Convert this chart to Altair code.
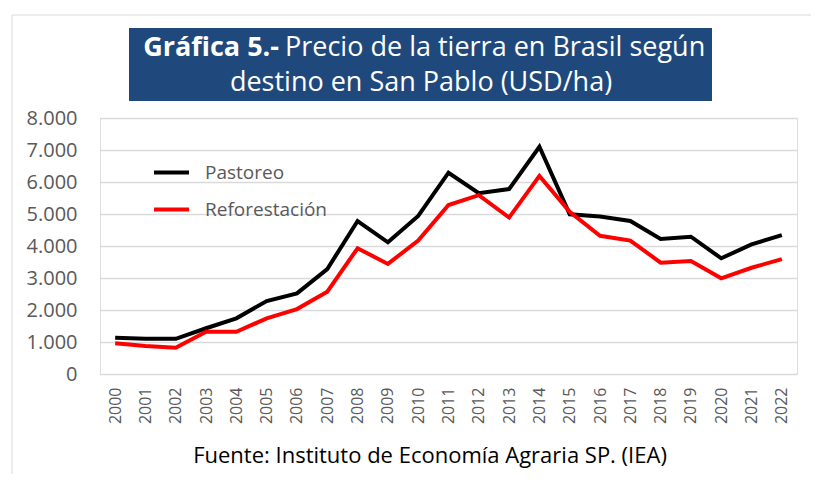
import altair as alt
import pandas as pd

years = [str(y) for y in range(2000, 2023)]
pastoreo = [1130, 1100, 1100, 1430, 1740, 2280, 2520, 3280, 4780, 4115, 4940, 6290,
            5650, 5780, 7100, 4990, 4920, 4780, 4220, 4290, 3615, 4050, 4340]
reforestacion = [960, 875, 820, 1320, 1320, 1740, 2030, 2570, 3930, 3440, 4170, 5280,
                 5590, 4890, 6190, 5070, 4320, 4170, 3480, 3530, 2990, 3320, 3590]
series = ["Pastoreo", "Reforestación"]
colors = ["#000000", "#FF0000"]
y_ticks = [0, 1000, 2000, 3000, 4000, 5000, 6000, 7000, 8000]

title_bold = "Gráfica 5.-"
title_rest = "Precio de la tierra en Brasil según"
title_line2 = "destino en San Pablo (USD/ha)"
source = "Fuente: Instituto de Economía Agraria SP. (IEA)"

rows = []
for i, yr in enumerate(years):
    rows.append({"year": yr, "serie": series[0], "value": pastoreo[i]})
    rows.append({"year": yr, "serie": series[1], "value": reforestacion[i]})
df = pd.DataFrame(rows)

W, H = 697, 256
FONT = "Open Sans"

lines = alt.Chart(df).mark_line(strokeWidth=4).encode(
    x=alt.X("year:O", sort=years, scale=alt.Scale(type="point", padding=0.5),
            axis=alt.Axis(title=None, labelAngle=-90, labelFontSize=16, labelColor="#595959",
                          labelFont=FONT, labelPadding=13, ticks=False, domain=False, grid=False)),
    y=alt.Y("value:Q", scale=alt.Scale(domain=[0, 8000]),
            axis=alt.Axis(title=None, values=y_ticks, labelFontSize=20, labelColor="#595959",
                          labelFont=FONT, labelPadding=23, ticks=False, domain=False,
                          gridColor="#d9d9d9", gridWidth=1.5,
                          labelExpr="replace(format(datum.value, ',d'), ',', '.')")),
    color=alt.Color("serie:N", scale=alt.Scale(domain=series, range=colors),
                    legend=alt.Legend(title=None, orient="none", legendX=52, legendY=35,
                                      symbolType="stroke", symbolStrokeWidth=4, symbolSize=1225,
                                      labelFontSize=19, labelColor="#595959", labelFont=FONT,
                                      labelOffset=14, rowPadding=7, padding=0)),
)

deco = pd.DataFrame({"k": [0]})
border = alt.Chart(deco).mark_rect(fill=None, stroke="#d9d9d9", strokeWidth=1).encode(
    x=alt.value(-88), x2=alt.value(730), y=alt.value(-103), y2=alt.value(380))
box = alt.Chart(deco).mark_rect(fill="#1F497D").encode(
    x=alt.value(29), x2=alt.value(612), y=alt.value(-90), y2=alt.value(-17))
t1 = alt.Chart(deco).mark_text(font=FONT, fontSize=27, fontWeight="bold", color="white",
                               align="right", baseline="middle").encode(
    x=alt.value(179), y=alt.value(-70), text=alt.value(title_bold))
t2 = alt.Chart(deco).mark_text(font=FONT, fontSize=27, color="white",
                               align="left", baseline="middle").encode(
    x=alt.value(185), y=alt.value(-70), text=alt.value(title_rest))
t3 = alt.Chart(deco).mark_text(font=FONT, fontSize=27, color="white",
                               align="center", baseline="middle").encode(
    x=alt.value(321), y=alt.value(-35), text=alt.value(title_line2))
src = alt.Chart(deco).mark_text(font=FONT, fontSize=22, color="#000000",
                                align="center", baseline="middle").encode(
    x=alt.value(330), y=alt.value(338), text=alt.value(source))

chart = alt.layer(border, box, t1, t2, t3, src, lines).properties(
    width=W, height=H,
    autosize=alt.AutoSizeParams(type="none"),
    padding={"left": 92, "top": 110, "right": 14, "bottom": 100},
).configure_view(stroke=None).configure(background="white")

chart.save("out.html", embed_options={"renderer": "svg", "actions": False})
